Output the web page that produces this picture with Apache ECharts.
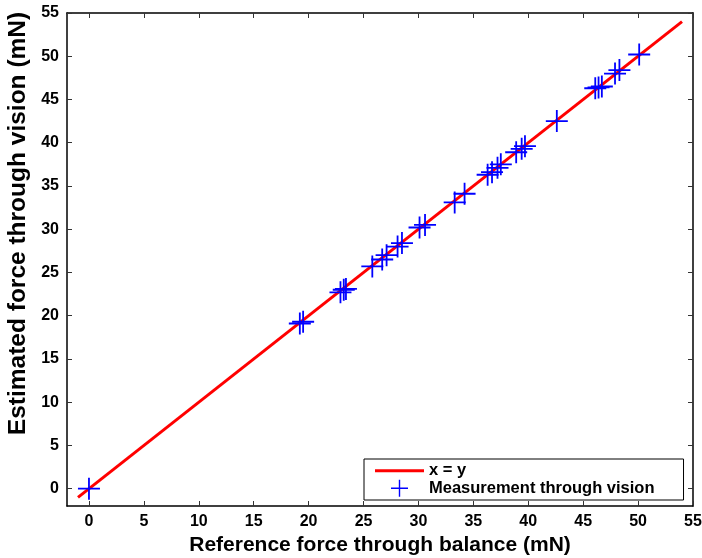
<!DOCTYPE html>
<html>
<head>
<meta charset="utf-8">
<script src="https://cdn.jsdelivr.net/npm/echarts@6/dist/echarts.min.js"></script>
<style>html,body{margin:0;padding:0;background:#fff;}#c{width:702px;height:558px;}</style>
</head>
<body>
<div id="c"></div>
<script>
// Data
const refForce = [0, 19.2, 19.5, 22.9, 23.2, 23.4, 25.8, 26.7, 27.1, 28.1, 28.5, 30.1, 30.6, 33.3, 34.2, 36.3, 36.7, 37.2, 37.5, 38.9, 39.4, 39.7, 42.6, 46.1, 46.4, 46.7, 47.9, 48.3, 50.1];
const estForce = [0, 19.1, 19.3, 22.7, 23.0, 23.1, 25.7, 26.5, 27.0, 28.0, 28.4, 30.2, 30.5, 33.1, 34.1, 36.3, 36.6, 37.1, 37.5, 38.9, 39.3, 39.6, 42.5, 46.3, 46.4, 46.5, 48.0, 48.4, 50.2];
const identityX = [-1, 54];
const tickValues = [0, 5, 10, 15, 20, 25, 30, 35, 40, 45, 50, 55];
const lineName = 'x = y';
const scatterName = 'Measurement through vision';
const xTitle = 'Reference force through balance (mN)';
const yTitle = 'Estimated force through vision (mN)';

const cross = 'path://M0,10.1H22V11.9H0Z M10.1,0H11.9V22H10.1Z';
const lineIcon = 'path://M0,0H49V3H0Z';
const font = 'Liberation Sans, Arial, Helvetica, sans-serif';

function mkAxis(pos, showLabel, name, nameGap, nameSize, namePad) {
  return {
    type: 'value', position: pos, min: -2, max: 55,
    name: name || '', nameLocation: 'middle', nameGap: nameGap || 0,
    nameTextStyle: {fontFamily: font, fontWeight: 'bold', fontSize: nameSize || 20, color: '#000', padding: namePad || 0},
    axisLine: {show: true, onZero: false, lineStyle: {color: '#000', width: 1.5}},
    axisTick: {show: true, inside: true, length: 5, customValues: tickValues, lineStyle: {color: '#333', width: 1}},
    axisLabel: {show: showLabel, customValues: tickValues, fontFamily: font, fontWeight: 'bold', fontSize: 16, color: '#000', margin: 8},
    splitLine: {show: false}
  };
}

const chart = echarts.init(document.getElementById('c'), null, {renderer: 'canvas'});
chart.setOption({
  backgroundColor: '#fff',
  animation: false,
  grid: {left: 67, right: 9, top: 13, bottom: 52, containLabel: false, outerBoundsMode: 'none'},
  xAxis: [mkAxis('bottom', true, xTitle, 27, 21), mkAxis('top', false)],
  yAxis: [mkAxis('left', true, yTitle, 29, 24.5, [0, 0, 0, 72]), mkAxis('right', false)],
  legend: {
    orient: 'vertical', left: 364, top: 459,
    itemWidth: 49, itemHeight: 17, itemGap: 0,
    padding: [3, 29, 3, 11],
    borderColor: '#000', borderWidth: 1, backgroundColor: '#fff',
    textStyle: {fontFamily: font, fontWeight: 'bold', fontSize: 16.5, lineHeight: 17.5, color: '#000'},
    data: [{name: lineName, icon: lineIcon}, {name: scatterName, icon: cross}]
  },
  series: [
    {
      name: lineName, type: 'line', xAxisIndex: 0, yAxisIndex: 0,
      data: identityX.map(v => [v, v]), symbol: 'none', showSymbol: false,
      lineStyle: {color: '#ff0000', width: 3}, itemStyle: {color: '#ff0000'}, z: 2
    },
    {
      name: scatterName, type: 'scatter', xAxisIndex: 0, yAxisIndex: 0,
      data: refForce.map((v, i) => [v, estForce[i]]),
      symbol: cross, symbolSize: 22, itemStyle: {color: '#0000ff', opacity: 1}, z: 3
    }
  ]
});
</script>
</body>
</html>
